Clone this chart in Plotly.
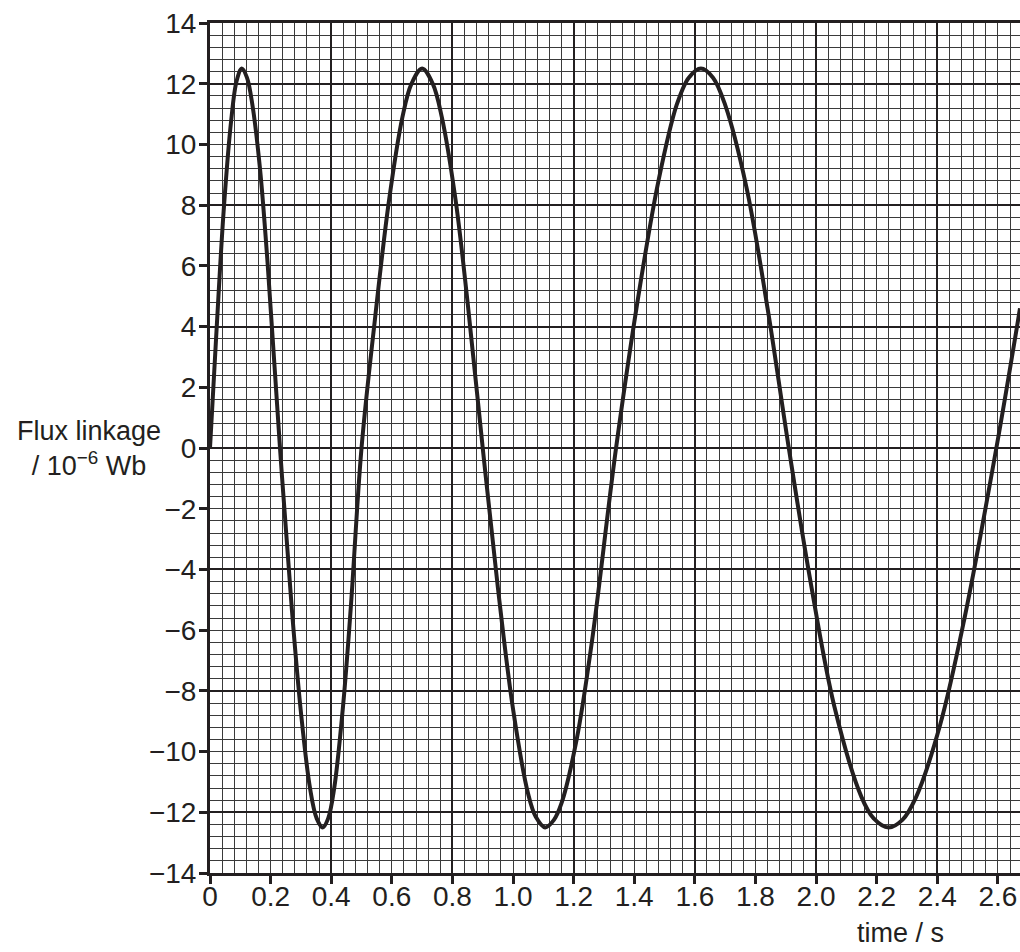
import plotly.graph_objects as go

# ---- data ----
time_s = [0, 0.02, 0.045, 0.07, 0.088, 0.105, 0.122, 0.14, 0.165, 0.19, 0.231,
          0.27, 0.30, 0.33, 0.352, 0.372, 0.39, 0.41, 0.44, 0.465, 0.50, 0.545,
          0.59, 0.635, 0.665, 0.70, 0.735, 0.765, 0.81, 0.85, 0.90, 0.95, 1.00,
          1.05, 1.075, 1.106, 1.135, 1.16, 1.21, 1.26, 1.34, 1.42, 1.48, 1.54,
          1.58, 1.62, 1.66, 1.70, 1.77, 1.84, 1.91, 1.98, 2.06, 2.15, 2.19,
          2.239, 2.285, 2.33, 2.41, 2.49, 2.595, 2.673]
flux_linkage = [0, 3.6, 7.8, 10.8, 12.1, 12.5, 12.2, 11.3, 9.2, 6.1, 0,
                -5.3, -8.7, -11.2, -12.2, -12.5, -12.2, -11.2, -8.4, -5.2, 0, 4.3,
                8.1, 10.9, 12.0, 12.5, 12.0, 10.9, 8.2, 4.8, 0, -4.6, -8.6,
                -11.4, -12.15, -12.5, -12.25, -11.7, -9.6, -6.4, 0, 5.4, 8.8, 11.3,
                12.2, 12.5, 12.2, 11.3, 8.6, 4.6, 0, -4.3, -8.5, -11.5, -12.2,
                -12.5, -12.25, -11.5, -9.1, -5.6, 0, 4.6]

x_tick_vals = [0, 0.2, 0.4, 0.6, 0.8, 1.0, 1.2, 1.4, 1.6, 1.8, 2.0, 2.2, 2.4, 2.6]
x_tick_text = ["0", "0.2", "0.4", "0.6", "0.8", "1.0", "1.2", "1.4", "1.6", "1.8",
               "2.0", "2.2", "2.4", "2.6"]
y_tick_vals = [-14, -12, -10, -8, -6, -4, -2, 0, 2, 4, 6, 8, 10, 12, 14]
y_tick_text = ["\u221214", "\u221212", "\u221210", "\u22128", "\u22126", "\u22124",
               "\u22122", "0", "2", "4", "6", "8", "10", "12", "14"]

x_range = [0, 2.673]
y_range = [-14, 14]

# ---- styling ----
INK = "#231f20"
FONT = "Liberation Sans, Arial, Helvetica, sans-serif"

fig = go.Figure()
fig.add_trace(go.Scatter(
    x=time_s, y=flux_linkage, mode="lines",
    line=dict(color=INK, width=4, shape="spline", smoothing=1.0),
    showlegend=False, hoverinfo="x+y",
))
# invisible copy on the labelled overlay axes so they render
fig.add_trace(go.Scatter(
    x=time_s, y=flux_linkage, mode="lines", xaxis="x2", yaxis="y2",
    line=dict(color="rgba(0,0,0,0)", width=1), showlegend=False, hoverinfo="skip",
))

grid_major = dict(showgrid=True, gridcolor=INK, gridwidth=2)
fig.update_layout(
    width=1020, height=952,
    margin=dict(l=210, r=0, t=23, b=79),
    paper_bgcolor="white", plot_bgcolor="white",
    font=dict(family=FONT, size=28, color=INK),
    xaxis=dict(range=x_range, tick0=0, dtick=0.4, showticklabels=False, ticks="",
               zeroline=False, showline=False, **grid_major,
               minor=dict(dtick=0.04, tick0=0, showgrid=True, gridcolor="#3a3a3a",
                          gridwidth=1)),
    yaxis=dict(range=y_range, tick0=0, dtick=4, showticklabels=False, ticks="",
               zeroline=False, showline=False, **grid_major,
               minor=dict(dtick=0.4, tick0=0, showgrid=True, gridcolor="#3a3a3a",
                          gridwidth=1)),
    xaxis2=dict(range=x_range, overlaying="x", side="bottom", anchor="y2",
                tickmode="array", tickvals=x_tick_vals, ticktext=x_tick_text,
                ticks="outside", ticklen=8, tickwidth=3, tickcolor=INK,
                ticklabelstandoff=-12,
                showgrid=False, zeroline=False, showline=True, linewidth=3,
                linecolor=INK, mirror=True, tickfont=dict(size=28, color=INK)),
    yaxis2=dict(range=y_range, overlaying="y", side="left", anchor="x2",
                tickmode="array", tickvals=y_tick_vals, ticktext=y_tick_text,
                ticks="outside", ticklen=8, tickwidth=3, tickcolor=INK,
                ticklabelstandoff=-3,
                showgrid=False, zeroline=False, showline=True, linewidth=3,
                linecolor=INK, tickfont=dict(size=28, color=INK)),
    annotations=[
        dict(text="Flux linkage<br>/ 10<sup>\u22126</sup> Wb", xref="paper", yref="paper",
             x=-0.149, y=0.50, xanchor="center", yanchor="middle",
             showarrow=False, align="center", font=dict(size=27, color=INK)),
        dict(text="time / s", xref="paper", yref="paper", x=0.852, y=-0.071,
             xanchor="center", yanchor="middle",
             showarrow=False, font=dict(size=27, color=INK)),
    ],
)

fig.write_html("out.html", config={"displayModeBar": False},
               post_script="document.body.style.margin='0';document.body.style.overflow='hidden';")
